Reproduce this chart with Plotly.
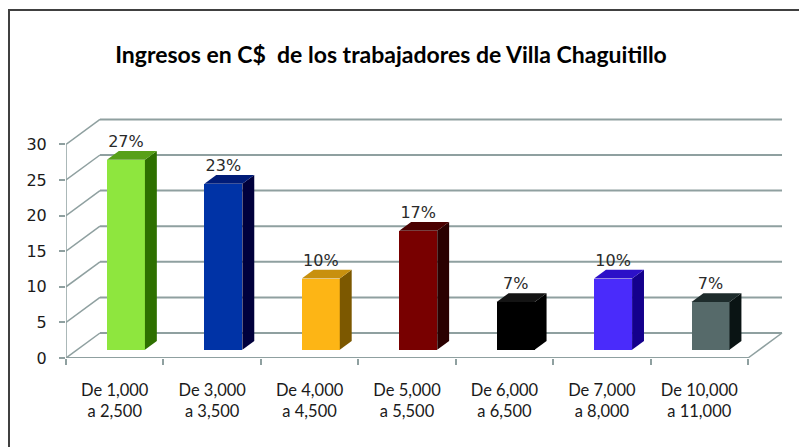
import plotly.graph_objects as go

# ---- data ----
categories = ["De 1,000<br>a 2,500", "De 3,000<br>a 3,500", "De 4,000<br>a 4,500",
              "De 5,000<br>a 5,500", "De 6,000<br>a 6,500", "De 7,000<br>a 8,000",
              "De 10,000<br>a 11,000"]
values = [26.7, 23.3, 10.0, 16.7, 6.7, 10.0, 6.7]
labels = ["27%", "23%", "10%", "17%", "7%", "10%", "7%"]
y_ticks = [0, 5, 10, 15, 20, 25, 30]
title_text = "Ingresos en C$&nbsp;&nbsp;de los trabajadores de Villa Chaguitillo"

# ---- style ----
front_colors = ["#8ee63e", "#0033a6", "#fdb515", "#780000", "#000000", "#4a2bfb", "#566a6a"]
side_colors = ["#2e7000", "#00003c", "#7c5800", "#2a0000", "#000000", "#14008c", "#0a1414"]
top_colors = ["#58a018", "#001c78", "#c8900e", "#4a0000", "#141414", "#2c10c8", "#1e2c2c"]
grid_color = "#8fa0a0"

DX, DY = 0.349, 3.51      # depth offset of the back wall, in data units
F, D, W = 0.33, 0.35, 0.39  # bar front depth, bar depth, bar width

n = len(categories)
xs = list(range(n))
base = F * DY

fig = go.Figure()

# front faces
fig.add_trace(go.Bar(
    x=[i + F * DX for i in xs], y=values, base=[base] * n, width=W,
    marker=dict(color=front_colors, line=dict(width=0)),
    hoverinfo="skip", showlegend=False))

# side and top faces
for i, v in enumerate(values):
    xl = i + F * DX - W / 2
    xr = i + F * DX + W / 2
    fig.add_trace(go.Scatter(
        x=[xr, xr + D * DX, xr + D * DX, xr, xr],
        y=[base, base + D * DY, base + v + D * DY, base + v, base],
        fill="toself", fillcolor=side_colors[i], mode="lines",
        line=dict(width=0, color=side_colors[i]), hoverinfo="skip", showlegend=False))
    fig.add_trace(go.Scatter(
        x=[xl, xr, xr + D * DX, xl + D * DX, xl],
        y=[base + v, base + v, base + v + D * DY, base + v + D * DY, base + v],
        fill="toself", fillcolor=top_colors[i], mode="lines",
        line=dict(width=0, color=top_colors[i]), hoverinfo="skip", showlegend=False))

# data labels
fig.add_trace(go.Scatter(
    x=[i + F * DX for i in xs], y=[v + (F + D) * DY for v in values],
    mode="text", text=labels, textposition="top center",
    textfont=dict(family="DejaVu Sans", size=16, color="#2a2a2a"),
    cliponaxis=False, hoverinfo="skip", showlegend=False))

shapes = []
xmin, xmax = -0.5, n - 0.5
# back wall gridlines and left wall diagonals
for t in y_ticks:
    shapes.append(dict(type="line", xref="x", yref="y", layer="below",
                       x0=xmin + DX, x1=xmax + DX, y0=t + DY, y1=t + DY,
                       line=dict(color=grid_color, width=2)))
    shapes.append(dict(type="line", xref="x", yref="y", layer="below",
                       x0=xmin, x1=xmin + DX, y0=t, y1=t + DY,
                       line=dict(color=grid_color, width=1.5)))
# floor front edge, floor right edge, front vertical axis
shapes.append(dict(type="line", xref="x", yref="y", layer="below",
                   x0=xmin, x1=xmax, y0=0, y1=0, line=dict(color=grid_color, width=2)))
shapes.append(dict(type="line", xref="x", yref="y", layer="below",
                   x0=xmax, x1=xmax + DX, y0=0, y1=DY, line=dict(color=grid_color, width=1.5)))
shapes.append(dict(type="line", xref="x", yref="y", layer="below",
                   x0=xmin, x1=xmin, y0=0, y1=y_ticks[-1], line=dict(color=grid_color, width=1.5)))

# page has an 8px body margin, so the figure is laid out 8px up/left
W_PX, H_PX = 799, 439
L, R, T, B = 58, 23, 104, 89
pw, ph = W_PX - L - R, H_PX - T - B
# chart border (open to the right/bottom as in the crop)
shapes.append(dict(type="rect", xref="paper", yref="paper", layer="above",
                   x0=(1 - L) / pw, x1=(815 - L) / pw,
                   y0=(H_PX - B - 460) / ph, y1=(H_PX - B - 2) / ph,
                   line=dict(color="#404040", width=2), fillcolor="rgba(0,0,0,0)"))

fig.update_layout(
    width=W_PX, height=H_PX,
    margin=dict(l=L, r=R, t=T, b=B),
    paper_bgcolor="white", plot_bgcolor="white",
    shapes=shapes, showlegend=False, bargap=0,
    title=dict(text=title_text, xref="container", yref="container",
               x=383 / W_PX, y=1 - 47 / H_PX, xanchor="center", yanchor="middle",
               font=dict(family="Lato", size=23, color="#000000", weight="bold")),
)

fig.update_xaxes(
    range=[xmin, xmin + pw / 97.43], tickmode="array", tickvals=xs, ticktext=categories,
    ticks="", showgrid=False, zeroline=False, showline=False, automargin=False,
    ticklabelstandoff=20,
    tickfont=dict(family="Lato", size=16.5, color="#1a1a1a"),
    minor=dict(tickmode="array", tickvals=[xmin + k for k in range(n + 1)],
               ticks="outside", ticklen=6, tickwidth=1.5, tickcolor=grid_color, showgrid=False),
)
fig.update_yaxes(
    range=[0, ph / 7.12], tickmode="array", tickvals=y_ticks,
    ticks="outside", ticklen=6, tickwidth=1.5, tickcolor=grid_color,
    showgrid=False, zeroline=False, showline=False, automargin=False,
    ticklabelstandoff=9,
    tickfont=dict(family="DejaVu Sans", size=16, color="#1a1a1a"),
)

fig.write_html("out.html")
